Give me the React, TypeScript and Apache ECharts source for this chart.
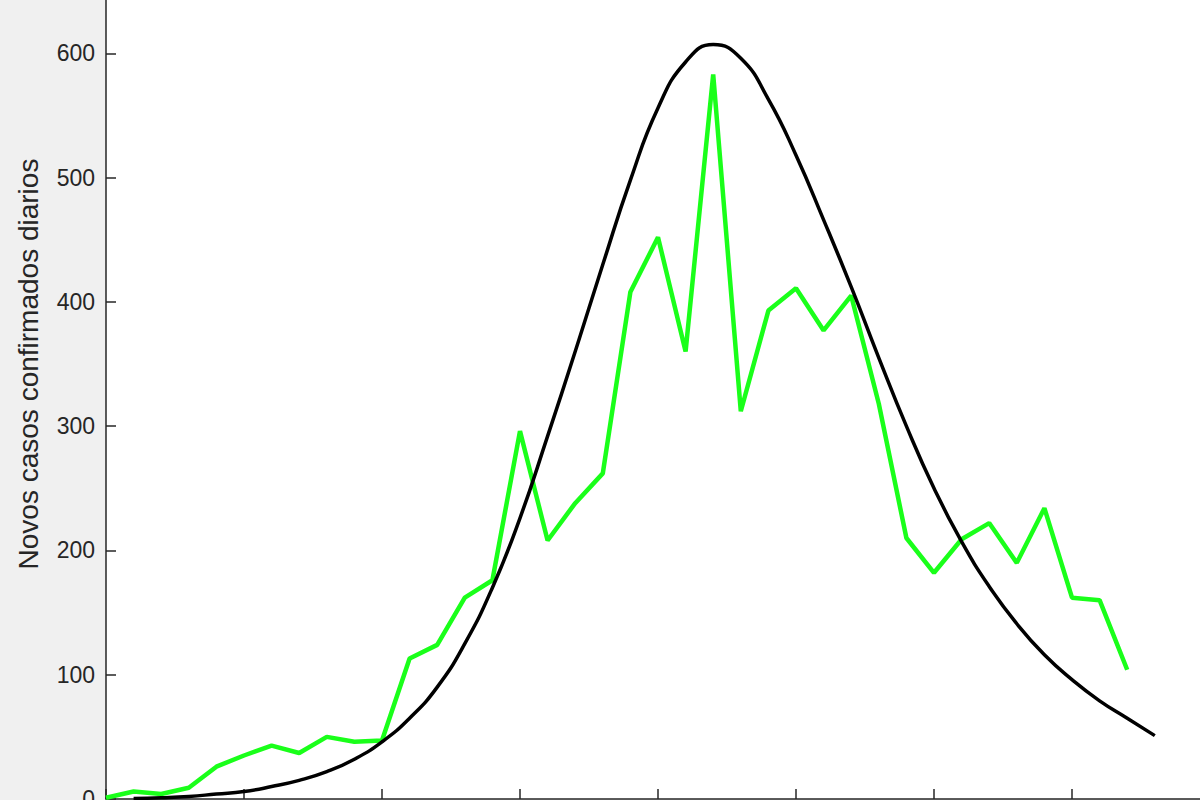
import React, { useEffect, useRef } from "react";
import * as echarts from "echarts";

// Daily new confirmed cases (green), day index from 0
const caseDays = [0, 1, 2, 3, 4, 5, 6, 7, 8, 9, 10, 11, 12, 13, 14, 15, 16, 17, 18, 19, 20, 21, 22, 23, 24, 25, 26, 27, 28, 29, 30, 31, 32, 33, 34, 35, 36, 37];
const caseValues = [1, 6, 4, 9, 26, 35, 43, 37, 50, 46, 47, 113, 124, 162, 176, 296, 208, 238, 262, 408, 452, 360, 583, 312, 393, 411, 377, 405, 318, 210, 182, 209, 222, 190, 234, 162, 160, 104];

// Fitted curve (black), day index from 1
const fitDays = [1, 2, 3, 4, 5, 6, 7, 8, 9, 10, 11, 12, 13, 14, 15, 16, 17, 18, 19, 20, 21, 22, 23, 24, 25, 26, 27, 28, 29, 30, 31, 32, 33, 34, 35, 36, 37, 38];
const fitValues = [0.5, 1, 2, 4, 6, 10, 15, 22, 32, 46, 65, 90, 125, 170, 226, 292, 360, 430, 498, 556, 593, 607, 596, 563, 518, 466, 412, 355, 300, 250, 207, 171, 141, 116, 96, 79, 65, 51];

const yTicks = [0, 100, 200, 300, 400, 500, 600, 700];
const yAxisTitle = "Novos casos confirmados diarios";

export default function App() {
  const ref = useRef<HTMLDivElement>(null);

  useEffect(() => {
    if (!ref.current) return;
    const chart = echarts.init(ref.current, undefined, { renderer: "svg" });
    const caseData = caseDays.map((d, i) => [d, caseValues[i]]);
    const fitData = fitDays.map((d, i) => [d, fitValues[i]]);
    chart.setOption({
      animation: false,
      backgroundColor: "#f0f0f0",
      grid: {
        left: 106,
        top: 100,
        width: 1104,
        height: 870,
        show: true,
        backgroundColor: "#ffffff",
        borderWidth: 0,
      },
      xAxis: {
        type: "value",
        min: 0,
        max: 40,
        interval: 5,
        axisLine: { show: true, onZero: false, lineStyle: { color: "#262626", width: 1.5 } },
        axisTick: { show: true, inside: true, length: 10, lineStyle: { color: "#262626", width: 1.5 } },
        axisLabel: { show: false },
        splitLine: { show: false },
      },
      yAxis: {
        type: "value",
        min: yTicks[0],
        max: yTicks[yTicks.length - 1],
        interval: 100,
        name: yAxisTitle,
        nameLocation: "middle",
        nameRotate: 90,
        nameGap: 64,
        nameTextStyle: { fontFamily: "Liberation Sans", fontSize: 28, color: "#262626" },
        axisLine: { show: true, lineStyle: { color: "#262626", width: 1.5 } },
        axisTick: { show: true, inside: true, length: 10, lineStyle: { color: "#262626", width: 1.5 } },
        axisLabel: {
          margin: 11,
          fontFamily: "Liberation Sans",
          fontSize: 23,
          color: "#262626",
          showMaxLabel: false,
        },
        splitLine: { show: false },
      },
      series: [
        {
          type: "line",
          name: "Casos",
          data: caseData,
          showSymbol: false,
          lineStyle: { color: "#1aff1a", width: 4.5 },
          itemStyle: { color: "#1aff1a" },
          z: 2,
        },
        {
          type: "line",
          name: "Ajuste",
          data: fitData,
          smooth: 0.5,
          showSymbol: false,
          lineStyle: { color: "#000000", width: 3.5 },
          itemStyle: { color: "#000000" },
          z: 3,
        },
      ],
    });
    return () => chart.dispose();
  }, []);

  return (
    <div
      ref={ref}
      style={{ position: "fixed", left: 0, top: -171, width: 1300, height: 1000 }}
    />
  );
}
